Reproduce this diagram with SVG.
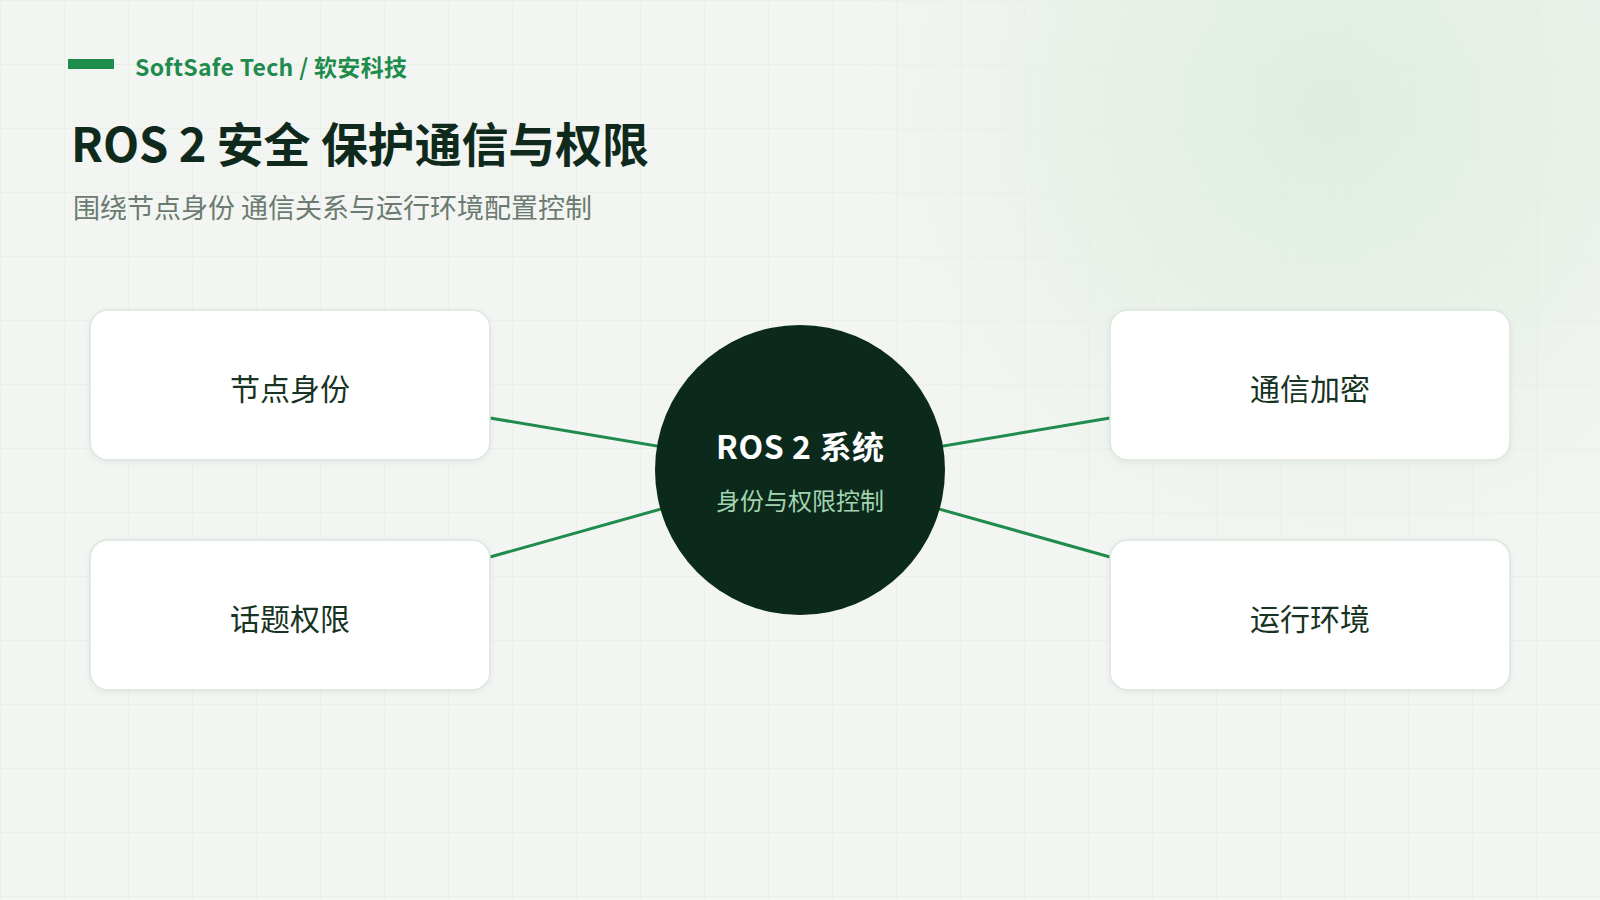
<svg xmlns="http://www.w3.org/2000/svg" width="1600" height="900" viewBox="0 0 1600 900">
  <defs>
    <pattern id="grid" width="64" height="64" patternUnits="userSpaceOnUse">
      <path d="M 64 0 L 0 0 0 64" fill="none" stroke="#e6ece6" stroke-width="1"/>
    </pattern>
    <radialGradient id="glow" cx="1330" cy="110" r="520" gradientUnits="userSpaceOnUse">
      <stop offset="0" stop-color="#dbecdc" stop-opacity="0.85"/>
      <stop offset="0.55" stop-color="#e1eee2" stop-opacity="0.45"/>
      <stop offset="1" stop-color="#f2f5f1" stop-opacity="0"/>
    </radialGradient>
    <filter id="shadow" x="-10%" y="-10%" width="120%" height="130%">
      <feDropShadow dx="0" dy="2" stdDeviation="3" flood-color="#0b2a1c" flood-opacity="0.05"/>
    </filter>
    <style>
      text { font-family: "Noto Sans CJK SC", "Noto Sans", "Liberation Sans", sans-serif; }
      .card { fill: #ffffff; stroke: #dce5de; stroke-width: 1.5; filter: url(#shadow); }
      .cardtext { font-size: 30px; fill: #173324; text-anchor: middle; }
      .conn { stroke: #1f8b4c; stroke-width: 3; fill: none; }
    </style>
  </defs>
  <rect width="1600" height="900" fill="#f2f5f1"/>
  <rect width="1600" height="900" fill="url(#grid)"/>
  <rect width="1600" height="900" fill="url(#glow)"/>

  <g id="header">
    <rect x="68" y="59" width="46" height="10" fill="#1f8b4c"/>
    <text x="135" y="76" font-size="23" font-weight="700" fill="#1f8b4c" textLength="272" lengthAdjust="spacing">SoftSafe Tech / 软安科技</text>
    <text x="71" y="162" font-size="47" font-weight="700" fill="#0f2a1c" textLength="578" lengthAdjust="spacing">ROS 2 安全 保护通信与权限</text>
    <text x="73" y="218" font-size="27" fill="#6b7b71" textLength="519" lengthAdjust="spacing">围绕节点身份 通信关系与运行环境配置控制</text>
  </g>

  <g id="connectors">
    <line class="conn" x1="490" y1="418" x2="800" y2="470"/>
    <line class="conn" x1="490" y1="557" x2="800" y2="470"/>
    <line class="conn" x1="1110" y1="418" x2="800" y2="470"/>
    <line class="conn" x1="1110" y1="557" x2="800" y2="470"/>
  </g>

  <g id="node-identity">
    <rect class="card" x="90" y="310" width="400" height="150" rx="18"/>
    <text class="cardtext" x="290" y="400">节点身份</text>
  </g>
  <g id="node-topic">
    <rect class="card" x="90" y="540" width="400" height="150" rx="18"/>
    <text class="cardtext" x="290" y="630">话题权限</text>
  </g>
  <g id="node-encrypt">
    <rect class="card" x="1110" y="310" width="400" height="150" rx="18"/>
    <text class="cardtext" x="1310" y="400">通信加密</text>
  </g>
  <g id="node-runtime">
    <rect class="card" x="1110" y="540" width="400" height="150" rx="18"/>
    <text class="cardtext" x="1310" y="630">运行环境</text>
  </g>

  <g id="node-center">
    <circle cx="800" cy="470" r="145" fill="#0b2a1c"/>
    <text x="800" y="459" font-size="32" font-weight="700" fill="#ffffff" text-anchor="middle" textLength="168" lengthAdjust="spacing">ROS 2 系统</text>
    <text x="800" y="510" font-size="24" fill="#a3d4b0" text-anchor="middle">身份与权限控制</text>
  </g>
</svg>
